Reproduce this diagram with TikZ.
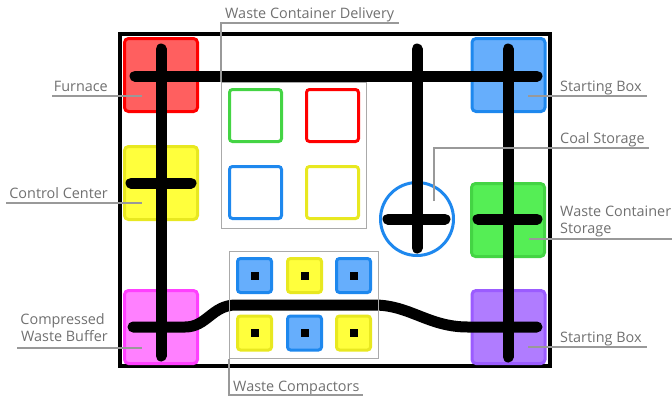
\documentclass[tikz,border=0pt]{standalone}
\usepackage{fontspec}
\setmainfont{Open Sans}
\definecolor{labelgray}{HTML}{707070}
\definecolor{leadgray}{HTML}{999999}
\definecolor{boxgray}{HTML}{AAAAAA}
\definecolor{redfill}{HTML}{FF5F5F}
\definecolor{redline}{HTML}{FF0000}
\definecolor{bluefill}{HTML}{66AEFC}
\definecolor{blueline}{HTML}{1E88EE}
\definecolor{yellowfill}{HTML}{FFFF3C}
\definecolor{yellowline}{HTML}{E8E820}
\definecolor{greenfill}{HTML}{55EE55}
\definecolor{greenline}{HTML}{44D444}
\definecolor{magfill}{HTML}{FF80FF}
\definecolor{magline}{HTML}{FF40FF}
\definecolor{purfill}{HTML}{B07CFF}
\definecolor{purline}{HTML}{9B5CFF}
\begin{document}
\begin{tikzpicture}[x=1bp,y=-1bp,
  lbl/.style={text=labelgray, font=\fontsize{14.4bp}{17.5bp}\selectfont, inner sep=0pt},
  leader/.style={draw=leadgray, line width=1.1bp},
  track/.style={draw=black, line width=11bp, line cap=round},
  bigbox/.style={minimum width=73bp, minimum height=73bp, line width=3bp, rounded corners=4bp, inner sep=0pt},
  outsq/.style={minimum width=52bp, minimum height=52bp, line width=3bp, rounded corners=3bp, inner sep=0pt, draw},
  smallsq/.style={minimum width=34bp, minimum height=34bp, line width=3bp, rounded corners=3bp, inner sep=0pt},
  dot/.style={fill=black, minimum size=8bp, inner sep=0pt},
  groupbox/.style={draw=boxgray, line width=1bp}
]
\useasboundingbox (0,0) rectangle (672,399);
% frame
\draw[line width=4bp] (120,34) rectangle (550,366);
% big boxes
\node[bigbox, fill=redfill, draw=redline] (furnace) at (161,75) {};
\node[bigbox, fill=bluefill, draw=blueline] (startA) at (508.5,75) {};
\node[bigbox, fill=yellowfill, draw=yellowline] (control) at (161,183) {};
\node[bigbox, fill=greenfill, draw=greenline] (wcstore) at (508,220) {};
\node[bigbox, fill=magfill, draw=magline] (buffer) at (161,327) {};
\node[bigbox, fill=purfill, draw=purline] (startB) at (508.5,327) {};
% coal storage circle
\node[circle, draw=blueline, line width=3bp, minimum size=73bp, inner sep=0pt] (coal) at (417,219) {};
% tracks
\coordinate (t1a) at (135,76); \coordinate (t1b) at (537,76);
\coordinate (v1a) at (161,49); \coordinate (v1b) at (161,356);
\coordinate (c1a) at (131,183); \coordinate (c1b) at (191,183);
\coordinate (v2a) at (417,49); \coordinate (v2b) at (417,248);
\coordinate (c2a) at (388,219); \coordinate (c2b) at (445,219);
\coordinate (v3a) at (508,49); \coordinate (v3b) at (508,357);
\coordinate (c3a) at (478,219); \coordinate (c3b) at (537,219);
\coordinate (sa) at (133,327); \coordinate (sb) at (537,327);
\draw[track] (t1a) -- (t1b);
\draw[track] (v1a) -- (v1b);
\draw[track] (c1a) -- (c1b);
\draw[track] (v2a) -- (v2b);
\draw[track] (c2a) -- (c2b);
\draw[track] (v3a) -- (v3b);
\draw[track] (c3a) -- (c3b);
\draw[track, line join=round] (sa) -- (185,327) .. controls (207,327) and (212,305) .. (236,305) -- (374,305) .. controls (410,305) and (428,327) .. (468,327) -- (sb);
% waste container delivery group
\node[groupbox, minimum width=145bp, minimum height=146bp, inner sep=0pt, anchor=north west] (delivery) at (221,82) {};
\node[outsq, draw=greenline] (dg) at (255.5,115.5) {};
\node[outsq, draw=redline] (dr) at (332.5,115.5) {};
\node[outsq, draw=blueline] (db) at (255.5,192.5) {};
\node[outsq, draw=yellowline] (dy) at (332.5,192.5) {};
% waste compactors group
\node[groupbox, minimum width=149bp, minimum height=107bp, inner sep=0pt, anchor=north west] (compact) at (229,251) {};
\foreach \n/\x/\y/\f/\l in {k1/254.5/275.5/bluefill/blueline, k2/304.5/275.5/yellowfill/yellowline, k3/353.5/275.5/bluefill/blueline,
  k4/254.5/333/yellowfill/yellowline, k5/304.5/333/bluefill/blueline, k6/353.5/333/yellowfill/yellowline}{
  \node[smallsq, fill=\f, draw=\l] (\n) at (\x,\y) {};
  \node[dot] (\n d) at (\n) {};
}
% labels
\node[lbl, anchor=base west] (lDel) at (225,18.5) {Waste Container Delivery};
\draw[leader] (delivery.north west) -- (221,23) -- (399,23);
\node[lbl, anchor=base west] (lComp) at (233,391) {Waste Compactors};
\draw[leader] (compact.south west) -- (229,395) -- (363,395);
\node[lbl, anchor=base east] (lFur) at (108,91) {Furnace};
\draw[leader] (52,96) -- (142,96);
\node[lbl, anchor=base east] (lCC) at (108,198) {Control Center};
\draw[leader] (6,203) -- (142,203);
\node[lbl, anchor=base east] (lCWB1) at (105,324) {Compressed};
\node[lbl, anchor=base east] (lCWB2) at (108,341.5) {Waste Buffer};
\draw[leader] (17,348) -- (142,348);
\node[lbl, anchor=base west] (lSB1) at (560,91) {Starting Box};
\draw[leader] (528,96) -- (647,96);
\node[lbl, anchor=base west] (lCoal) at (560,143) {Coal Storage};
\draw[leader] (434,201) -- (434,148) -- (649,148);
\node[lbl, anchor=base west] (lWCS1) at (560,216) {Waste Container};
\node[lbl, anchor=base west] (lWCS2) at (560,233.5) {Storage};
\draw[leader] (529,239) -- (672,239);
\node[lbl, anchor=base west] (lSB2) at (560,342) {Starting Box};
\draw[leader] (528,347) -- (647,347);
\end{tikzpicture}
\end{document}
